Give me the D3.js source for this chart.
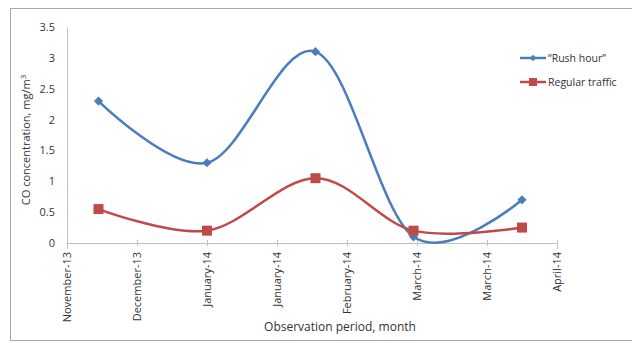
<!DOCTYPE html>
<html>
<head>
<meta charset="utf-8">
<script src="https://cdn.jsdelivr.net/npm/d3@7"></script>
<style>
  body { margin: 0; background: #fff; }
  text { font-family: "Open Sans", "Liberation Sans", sans-serif; fill: #333; }
</style>
</head>
<body>
<div id="chart"></div>
<script>
// Observation dates (monthly) and CO values
const dates = ["2013-12-07", "2014-01-07", "2014-02-07", "2014-03-07", "2014-04-07"];
const rushHour = [2.3, 1.3, 3.1, 0.1, 0.7];
const regular = [0.55, 0.2, 1.05, 0.2, 0.25];
const seriesNames = ["\u201cRush hour\u201d", "Regular traffic"];
const yTicks = [0, 0.5, 1, 1.5, 2, 2.5, 3, 3.5];

const W = 632, H = 343;
const margin = { top: 27, right: 75, bottom: 100, left: 67 },
    width = 557 - margin.left,
    height = 243 - margin.top;

const parse = d3.timeParse("%Y-%m-%d");
const axisStart = parse("2013-11-28");
const xTicks = d3.range(8).map(i => d3.timeDay.offset(axisStart, 20 * i));

const svg = d3.select("#chart").append("svg")
    .attr("width", W)
    .attr("height", H);

// outer frame
svg.append("rect")
    .attr("x", 10.5).attr("y", 8.5)
    .attr("width", 640).attr("height", 332)
    .attr("fill", "none")
    .attr("stroke", "#a6a6a6");

const g = svg.append("g")
    .attr("transform", `translate(${margin.left},${margin.top})`);

const x = d3.scaleTime()
    .domain([xTicks[0], xTicks[xTicks.length - 1]])
    .range([0, width]);
const y = d3.scaleLinear()
    .domain([0, 3.5])
    .range([height, 0]);

// Y axis
const yAxis = g.append("g")
    .call(d3.axisLeft(y).tickValues(yTicks).tickSize(0).tickPadding(12).tickFormat(d3.format("")));
yAxis.select(".domain").attr("stroke", "#bfbfbf");
yAxis.selectAll("text").style("font-size", "11px").attr("fill", "#333");

// X axis
const xAxis = g.append("g")
    .attr("transform", `translate(0,${height})`)
    .call(d3.axisBottom(x).tickValues(xTicks).tickSize(6).tickFormat(d3.timeFormat("%B-%y")));
xAxis.select(".domain").attr("stroke", "#bfbfbf");
xAxis.selectAll(".tick line").attr("stroke", "#bfbfbf").attr("y1", -3).attr("y2", 3);
xAxis.selectAll("text")
    .style("font-size", "11px")
    .attr("fill", "#333")
    .attr("text-anchor", "end")
    .attr("transform", "rotate(-90)")
    .attr("x", -9)
    .attr("y", 0)
    .attr("dy", "0.35em");

// axis titles
svg.append("text")
    .attr("text-anchor", "middle")
    .attr("transform", "rotate(-90)")
    .attr("x", -140)
    .attr("y", 30)
    .style("font-size", "11px")
    .html("CO concentration, mg/m<tspan dy='-4' style='font-size:8px'>3</tspan>");

svg.append("text")
    .attr("text-anchor", "middle")
    .attr("x", 340)
    .attr("y", 331)
    .style("font-size", "12px")
    .text("Observation period, month");

const colors = ["#4a7ebb", "#be4b48"];
const series = [rushHour, regular];

const line = d3.line()
    .x((d, i) => x(parse(dates[i])))
    .y(d => y(d))
    .curve(d3.curveCardinal.tension(0));

series.forEach((vals, s) => {
    g.append("path")
        .datum(vals)
        .attr("fill", "none")
        .attr("stroke", colors[s])
        .attr("stroke-width", 2.5)
        .attr("d", line);
});

// markers: diamonds as rotated squares, plain squares
const diamond = d3.symbol().type(d3.symbolSquare).size(42);
g.selectAll(".m1").data(rushHour).enter().append("path")
    .attr("transform", (d, i) => `translate(${x(parse(dates[i]))},${y(d)}) rotate(45)`)
    .attr("d", diamond)
    .attr("fill", colors[0]);

g.selectAll(".m2").data(regular).enter().append("rect")
    .attr("x", (d, i) => x(parse(dates[i])) - 5)
    .attr("y", d => y(d) - 5)
    .attr("width", 10).attr("height", 10)
    .attr("fill", colors[1]);

// legend
const legend = svg.append("g").attr("transform", "translate(520,58)");
seriesNames.forEach((name, i) => {
    const row = legend.append("g").attr("transform", `translate(0,${i * 24})`);
    row.append("line")
        .attr("x1", 0).attr("x2", 26)
        .attr("stroke", colors[i]).attr("stroke-width", 2.5);
    if (i === 0) {
        row.append("path").attr("transform", "translate(13,0) rotate(45)")
            .attr("d", d3.symbol().type(d3.symbolSquare).size(22)).attr("fill", colors[0]);
    } else {
        row.append("rect").attr("x", 9).attr("y", -4).attr("width", 8).attr("height", 8).attr("fill", colors[1]);
    }
    row.append("text")
        .attr("x", 28).attr("dy", "0.35em")
        .style("font-size", "10.5px")
        .text(name);
});
</script>
</body>
</html>
